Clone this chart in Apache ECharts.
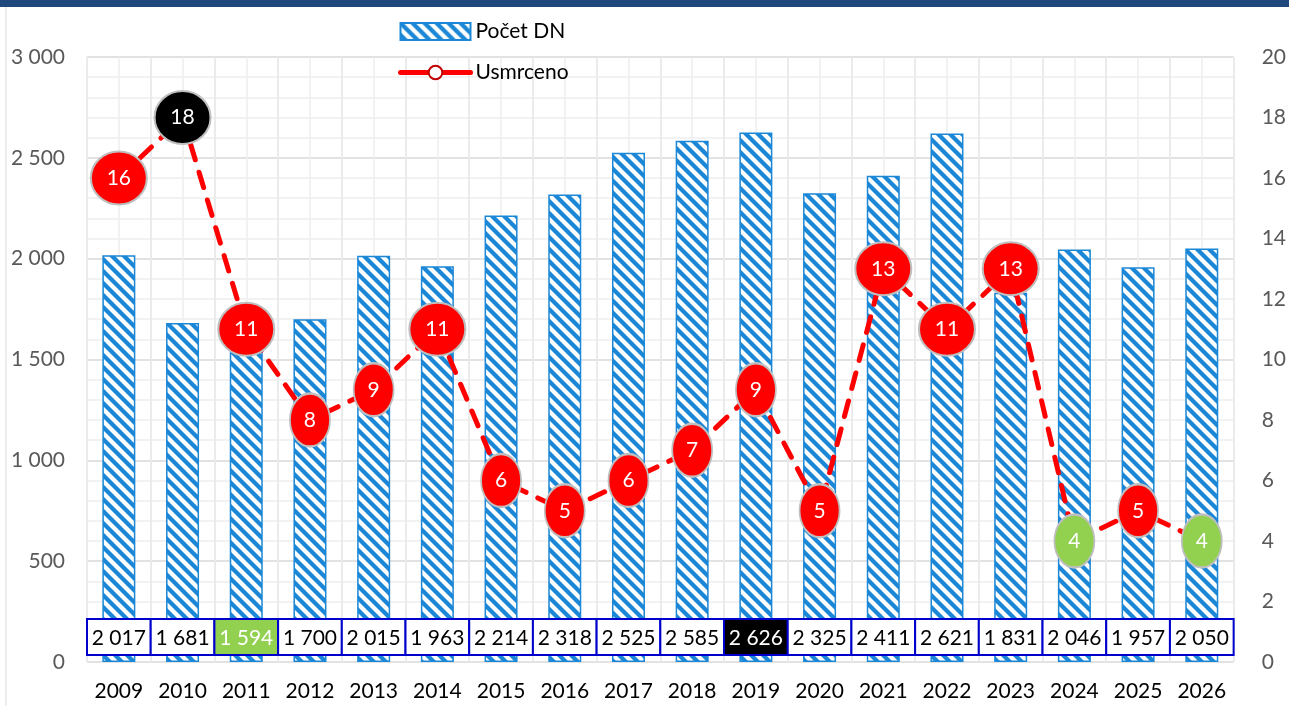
<!DOCTYPE html>
<html>
<head>
<meta charset="utf-8">
<script src="https://cdn.jsdelivr.net/npm/echarts@6/dist/echarts.min.js"></script>
<style>
  html, body { margin: 0; padding: 0; background: #fff; }
  #main { width: 1289px; height: 706px; }
</style>
</head>
<body>
<div id="main"></div>
<script>
// data
const years = ['2009', '2010', '2011', '2012', '2013', '2014', '2015', '2016', '2017',
  '2018', '2019', '2020', '2021', '2022', '2023', '2024', '2025', '2026']
const pocetDN = [2017, 1681, 1594, 1700, 2015, 1963, 2214, 2318, 2525,
  2585, 2626, 2325, 2411, 2621, 1831, 2046, 1957, 2050]
const usmrceno = [16, 18, 11, 8, 9, 11, 6, 5, 6, 7, 9, 5, 13, 11, 13, 4, 5, 4]
const leftTicks = [0, 500, 1000, 1500, 2000, 2500, 3000]
const rightTicks = [0, 2, 4, 6, 8, 10, 12, 14, 16, 18, 20]

// highlighted cells (index)
const tableGreen = [2]
const tableBlack = [10]
const lineBlack = [1]
const lineGreen = [15, 17]

const FONT = 'Lato, "Noto Sans", sans-serif'

function fmt(v) {
  return String(v).replace(/\B(?=(\d{3})+(?!\d))/g, ' ')
}

// hatch pattern for bars
function makeHatch() {
  let s = 12
  let c = document.createElement('canvas')
  c.width = s
  c.height = s
  let ctx = c.getContext('2d')
  ctx.fillStyle = '#ffffff'
  ctx.fillRect(0, 0, s, s)
  ctx.strokeStyle = '#1b87d6'
  ctx.lineWidth = 4.2
  for (let x0 = -s; x0 <= s; x0 += s) {
    ctx.beginPath()
    ctx.moveTo(x0 - 3, -3)
    ctx.lineTo(x0 + s + 3, s + 3)
    ctx.stroke()
  }
  return c
}

let chart = echarts.init(document.getElementById('main'))

let lineData = usmrceno.map((v, i) => {
  let fill = '#ff0000'
  if (lineBlack.includes(i)) fill = '#000000'
  if (lineGreen.includes(i)) fill = '#92d050'
  let w = String(v).length > 1 ? 56 : 40
  return {
    value: v,
    symbolSize: [w, 53],
    itemStyle: { color: fill, borderColor: '#bfbfbf', borderWidth: 2 }
  }
})

let option = {
  animation: false,
  graphic: [
    { type: 'rect', shape: { x: 0, y: 0, width: 1289, height: 7 }, style: { fill: '#1f497d' }, z: 10 },
    { type: 'line', shape: { x1: 6, y1: 7, x2: 6, y2: 706 }, style: { stroke: '#d9d9d9', lineWidth: 1 } }
  ],
  grid: { left: 87, right: 54, top: 57, bottom: 44 },
  legend: {
    orient: 'vertical',
    left: 393,
    top: 16,
    itemWidth: 70,
    itemHeight: 17,
    itemGap: 20,
    textStyle: { fontFamily: FONT, fontSize: 21, color: '#000' },
    data: [
      { name: 'Počet DN', icon: 'rect' },
      {
        name: 'Usmrceno',
        itemStyle: { color: '#ffffff', borderColor: '#c00000', borderWidth: 2 },
        lineStyle: { type: 'solid', width: 5, color: '#ff0000' }
      }
    ]
  },
  xAxis: [
    {
      type: 'category',
      data: years,
      axisLine: { show: false },
      axisTick: { show: false },
      axisLabel: { color: '#000', fontFamily: FONT, fontSize: 21, margin: 19 },
      splitLine: { show: true, lineStyle: { color: '#d9d9d9', width: 1.5 } }
    },
    {
      type: 'value',
      min: 0,
      max: 36,
      interval: 1,
      show: true,
      axisLine: { show: false },
      axisTick: { show: false },
      axisLabel: { show: false },
      splitLine: { show: true, lineStyle: { color: '#eeeeee', width: 1.5 } }
    }
  ],
  yAxis: [
    {
      type: 'value',
      min: leftTicks[0],
      max: leftTicks[leftTicks.length - 1],
      interval: 500,
      axisLabel: { color: '#595959', fontFamily: FONT, fontSize: 21, margin: 22, formatter: v => fmt(v) },
      axisLine: { show: false },
      axisTick: { show: false },
      splitLine: { lineStyle: { color: '#d9d9d9', width: 1.5 } },
      minorTick: { show: false, splitNumber: 5 },
      minorSplitLine: { show: true, lineStyle: { color: '#eeeeee', width: 1.5 } }
    },
    {
      type: 'value',
      position: 'right',
      min: rightTicks[0],
      max: rightTicks[rightTicks.length - 1],
      interval: 2,
      axisLabel: { color: '#595959', fontFamily: FONT, fontSize: 21, margin: 28 },
      axisLine: { show: false },
      axisTick: { show: false },
      splitLine: { show: false }
    }
  ],
  series: [
    {
      name: 'Počet DN',
      type: 'bar',
      data: pocetDN,
      barWidth: 33,
      itemStyle: {
        color: { image: makeHatch(), repeat: 'repeat' },
        borderColor: '#1b87d6',
        borderWidth: 1.5
      },
      z: 2
    },
    {
      name: 'table',
      type: 'custom',
      data: pocetDN.map((v, i) => [i, v]),
      encode: { x: 0, y: 1 },
      z: 5,
      renderItem: function (params, api) {
        let i = api.value(0)
        let cx = api.coord([i, 0])[0]
        let w = api.size([1, 0])[0]
        let fill = '#ffffff'
        let txt = '#000000'
        if (tableGreen.includes(i)) { fill = '#92d050'; txt = '#ffffff' }
        if (tableBlack.includes(i)) { fill = '#000000'; txt = '#ffffff' }
        return {
          type: 'group',
          children: [
            {
              type: 'rect',
              shape: { x: cx - w / 2, y: 619, width: w, height: 36 },
              style: { fill: fill, stroke: '#0000cc', lineWidth: 2 }
            },
            {
              type: 'text',
              style: {
                text: fmt(api.value(1)),
                x: cx,
                y: 638,
                align: 'center',
                verticalAlign: 'middle',
                fill: txt,
                fontFamily: FONT,
                fontSize: 21
              }
            }
          ]
        }
      }
    },
    {
      name: 'Usmrceno',
      type: 'line',
      yAxisIndex: 1,
      data: lineData,
      symbol: 'circle',
      lineStyle: { color: '#ff0000', width: 5, type: [16, 13], cap: 'round' },
      itemStyle: { color: '#ff0000' },
      label: {
        show: true,
        position: 'inside',
        color: '#ffffff',
        fontFamily: FONT,
        fontSize: 21
      },
      z: 6
    }
  ]
}

chart.setOption(option)
</script>
</body>
</html>
